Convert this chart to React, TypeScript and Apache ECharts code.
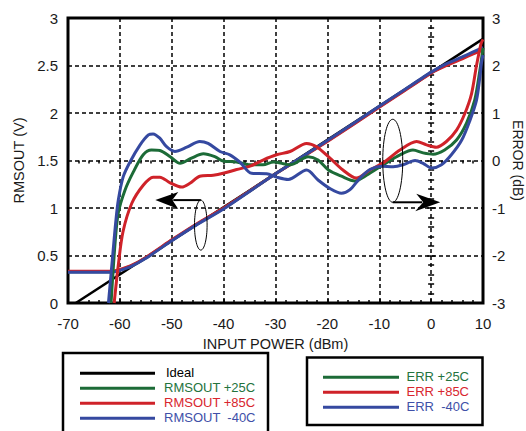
import React, { useEffect, useRef } from "react";
import * as echarts from "echarts";

const FONT = '"Liberation Sans", Arial, sans-serif';
const GREEN = "#1c6b37";
const RED = "#cf2229";
const BLUE = "#3549a0";

// Axis setup
const xMin = -70;
const xMax = 10;
const xStep = 10;
const vMin = 0;
const vMax = 3;
const vStep = 0.5;
const eMin = -3;
const eMax = 3;
const eStep = 1;

// Ideal transfer line (V vs dBm)
const idealX = [-68.5, 10];
const idealV = [0, 2.78];

// RMSOUT (left axis, V)
const rmsX = [-70, -61.5, -60.5, -58, -55, -50, -45, -40, -30, -20, -10, -5, 0, 3, 6, 8, 10];
const rmsGreen = [0.33, 0.33, 0.34, 0.385, 0.475, 0.66, 0.835, 0.995, 1.36, 1.705, 2.065, 2.245, 2.425, 2.51, 2.58, 2.63, 2.68];
const rmsRed = [0.335, 0.335, 0.345, 0.39, 0.48, 0.665, 0.84, 1.0, 1.36, 1.7, 2.06, 2.24, 2.42, 2.5, 2.57, 2.62, 2.665];
const rmsBlue = [0.325, 0.325, 0.335, 0.38, 0.47, 0.655, 0.83, 0.99, 1.36, 1.71, 2.07, 2.25, 2.43, 2.52, 2.59, 2.64, 2.69];

// ERR (right axis, dB)
const errGreen: [number, number][] = [
  [-61.7, -3], [-60.9, -1.7], [-60.3, -1.1], [-59.0, -0.62], [-57.4, -0.24], [-55.5, 0.12],
  [-53.9, 0.22], [-52.3, 0.21], [-50.3, 0.08], [-48.4, -0.06], [-46.2, 0.05], [-43.9, 0.14],
  [-41.7, 0.08], [-40.1, -0.01], [-37.5, -0.03], [-34.9, -0.09], [-32.4, -0.09], [-30.4, -0.03],
  [-27.2, -0.09], [-23.7, 0.08], [-21.8, 0.01], [-19.8, -0.2], [-17.3, -0.33], [-14.7, -0.43],
  [-12.45, -0.31], [-9.25, -0.09], [-6.0, 0.12], [-3.5, 0.22], [-1.55, 0.16], [0.4, 0.13],
  [2.6, 0.22], [4.9, 0.43], [6.8, 0.78], [8.4, 1.27], [9.4, 1.9], [10, 2.37],
];
const errRed: [number, number][] = [
  [-61.1, -3], [-60.3, -2.2], [-59.4, -1.5], [-57.7, -0.9], [-55.5, -0.52], [-53.6, -0.35],
  [-52.3, -0.35], [-50.3, -0.47], [-48.1, -0.56], [-46.5, -0.48], [-44.6, -0.33], [-42.0, -0.31],
  [-40.1, -0.27], [-37.5, -0.19], [-34.9, -0.12], [-32.4, 0.01], [-29.8, 0.12], [-27.2, 0.19],
  [-24.0, 0.36], [-22.1, 0.29], [-19.5, 0.05], [-17.0, -0.2], [-14.4, -0.37], [-11.8, -0.2],
  [-9.25, -0.05], [-6.0, 0.22], [-2.8, 0.4], [-0.9, 0.33], [1.0, 0.28], [2.95, 0.4],
  [4.9, 0.64], [6.5, 0.99], [7.8, 1.41], [8.75, 2.0], [9.6, 2.45], [10, 2.55],
];
const errBlue: [number, number][] = [
  [-62.2, -3], [-61.3, -1.9], [-60.8, -1.3], [-60.3, -0.83], [-59.35, -0.34], [-58.05, -0.03],
  [-56.1, 0.33], [-54.5, 0.54], [-53.6, 0.56], [-52.3, 0.47], [-51.0, 0.29], [-49.4, 0.19],
  [-47.1, 0.28], [-44.6, 0.4], [-43.0, 0.36], [-40.7, 0.19], [-38.8, 0.12], [-36.9, -0.03],
  [-34.6, -0.27], [-31.7, -0.28], [-29.8, -0.35], [-27.55, -0.4], [-24.0, -0.2], [-21.8, -0.41],
  [-19.5, -0.59], [-17.3, -0.69], [-15.7, -0.62], [-13.7, -0.37], [-11.8, -0.19], [-9.6, -0.12],
  [-7.3, -0.13], [-5.4, -0.09], [-3.1, 0.0], [-1.55, -0.06], [0.08, -0.16], [2.0, -0.09],
  [3.9, 0.12], [5.9, 0.43], [7.5, 0.85], [8.75, 1.27], [9.4, 1.76], [9.7, 2.05], [10, 2.22],
];

// Annotation anchors (data coords): ellipse centres
const leftNote = [-44.4, 0.82];
const rightNote = [-7.4, 1.497];

const legendLeft = [
  { name: "Ideal", color: "#000", text: "#000" },
  { name: "RMSOUT +25C", color: GREEN, text: "#24733d" },
  { name: "RMSOUT +85C", color: RED, text: "#d8262e" },
  { name: "RMSOUT  -40C", color: BLUE, text: "#4050a8" },
];
const legendRight = [
  { name: "ERR +25C", color: GREEN, text: "#24733d" },
  { name: "ERR +85C", color: RED, text: "#d8262e" },
  { name: "ERR  -40C", color: BLUE, text: "#4050a8" },
];

const zip = (xs: number[], ys: number[]) => xs.map((x, i) => [x, ys[i]]);

export default function App() {
  const ref = useRef<HTMLDivElement>(null);
  useEffect(() => {
    document.body.style.margin = "0";
    const chart = echarts.init(ref.current!, null, { renderer: "svg" });
    const tickCommon = {
      axisTick: { show: true, inside: true, length: 4, lineStyle: { color: "#000", width: 1.5 } },
      minorTick: { show: true, splitNumber: 5, length: 3, lineStyle: { color: "#000", width: 1.5 } },
      axisLine: { show: false },
    };
    const labelStyle = { fontSize: 15, fontFamily: FONT, color: "#1a1a1a" };
    const nameStyle = { fontSize: 14.5, fontFamily: FONT, color: "#1a1a1a" };
    const dashed = { show: true, lineStyle: { color: "#000", type: [4, 3], width: 1.5 } };
    const line = (name: string, data: number[][], color: string, yIdx: number, smooth: number | boolean, width = 3) => ({
      name,
      type: "line",
      data,
      yAxisIndex: yIdx,
      showSymbol: false,
      symbol: "none",
      smooth,
      lineStyle: { color, width },
      itemStyle: { color },
    });
    chart.setOption({
      animation: false,
      grid: {
        left: 68, right: 43, top: 18, bottom: 128, show: true, borderColor: "#000", borderWidth: 3,
        backgroundColor: "transparent", containLabel: false, outerBoundsMode: "none",
      },
      xAxis: [
        {
          type: "value", min: xMin, max: xMax, interval: xStep, position: "bottom",
          ...tickCommon,
          splitLine: dashed,
          axisLabel: { margin: 13, ...labelStyle },
          name: "INPUT POWER (dBm)", nameLocation: "middle", nameGap: 33, nameTextStyle: nameStyle,
        },
        {
          type: "value", min: xMin, max: xMax, interval: xStep, position: "top",
          ...tickCommon,
          splitLine: { show: false },
          axisLabel: { show: false },
        },
      ],
      yAxis: [
        {
          type: "value", min: vMin, max: vMax, interval: vStep, position: "left",
          ...tickCommon,
          splitLine: dashed,
          axisLabel: { margin: 10, ...labelStyle },
          name: "RMSOUT (V)", nameLocation: "middle", nameGap: 35, nameTextStyle: nameStyle,
        },
        {
          type: "value", min: eMin, max: eMax, interval: eStep, position: "right",
          ...tickCommon,
          splitLine: { show: false },
          axisLabel: { margin: 9, ...labelStyle },
          name: "ERROR (dB)", nameLocation: "middle", nameGap: 28, nameRotate: -90, nameMoveOverlap: false,
          nameTextStyle: { ...nameStyle, fontSize: 14 },
        },
      ],
      series: [
        line("Ideal", zip(idealX, idealV), "#000", 0, false, 2.5),
        line("RMSOUT +25C", zip(rmsX, rmsGreen), GREEN, 0, 0.15),
        line("RMSOUT +85C", zip(rmsX, rmsRed), RED, 0, 0.15),
        line("RMSOUT -40C", zip(rmsX, rmsBlue), BLUE, 0, 0.15),
        line("ERR +25C", errGreen, GREEN, 1, 0.3),
        line("ERR +85C", errRed, RED, 1, 0.3),
        line("ERR -40C", errBlue, BLUE, 1, 0.3),
      ],
    });

    const lp = chart.convertToPixel({ xAxisIndex: 0, yAxisIndex: 0 }, leftNote) as number[];
    const rp = chart.convertToPixel({ xAxisIndex: 0, yAxisIndex: 0 }, rightNote) as number[];
    const black = { stroke: "#000", lineWidth: 1, fill: "transparent" };
    const lrx = 6.3, lry = 25;
    const rrx = 10, rry = 41.5;
    const lTop = lp[1] - lry;
    const rBot = rp[1] + rry;
    const ltip = lp[0] - 45.5;
    const rtip = rp[0] + 47.5;

    const graphics: any[] = [
      { type: "ellipse", shape: { cx: lp[0], cy: lp[1], rx: lrx, ry: lry }, style: black, z: 100 },
      { type: "line", shape: { x1: lp[0], y1: lTop, x2: ltip + 18, y2: lTop }, style: { stroke: "#000", lineWidth: 2 }, z: 100 },
      { type: "polygon", shape: { points: [[ltip, lTop], [ltip + 23, lTop - 8], [ltip + 17, lTop], [ltip + 23, lTop + 9]] }, style: { fill: "#000" }, z: 100 },
      { type: "ellipse", shape: { cx: rp[0], cy: rp[1], rx: rrx, ry: rry }, style: black, z: 100 },
      { type: "line", shape: { x1: rp[0], y1: rBot, x2: rtip - 18, y2: rBot }, style: { stroke: "#000", lineWidth: 2 }, z: 100 },
      { type: "polygon", shape: { points: [[rtip, rBot], [rtip - 24, rBot - 8.5], [rtip - 17, rBot], [rtip - 25, rBot + 9]] }, style: { fill: "#000" }, z: 100 },
      { type: "rect", shape: { x: 63, y: 353, width: 205, height: 95 }, style: { stroke: "#000", lineWidth: 2.5, fill: "transparent" }, z: 100 },
      { type: "rect", shape: { x: 307, y: 357.5, width: 175.5, height: 67.5 }, style: { stroke: "#000", lineWidth: 2.5, fill: "transparent" }, z: 100 },
    ];
    legendLeft.forEach((item, i) => {
      const y = 373.3 + i * 15;
      graphics.push({ type: "line", shape: { x1: 80, y1: y, x2: 155, y2: y }, style: { stroke: item.color, lineWidth: 3 }, z: 100 });
      graphics.push({
        type: "text", z: 100,
        style: { x: i === 0 ? 166 : 164, y: y - 0.5, text: item.name, fill: item.text, fontSize: 13, fontFamily: FONT, verticalAlign: "middle", align: "left" },
      });
    });
    legendRight.forEach((item, i) => {
      const y = 377.3 + i * 15;
      graphics.push({ type: "line", shape: { x1: 323, y1: y, x2: 399, y2: y }, style: { stroke: item.color, lineWidth: 3 }, z: 100 });
      graphics.push({
        type: "text", z: 100,
        style: { x: 406.5, y: y - 0.5, text: item.name, fill: item.text, fontSize: 13, fontFamily: FONT, verticalAlign: "middle", align: "left" },
      });
    });
    chart.setOption({ graphic: graphics });
    return () => chart.dispose();
  }, []);
  return <div ref={ref} style={{ width: 526, height: 431 }} />;
}
